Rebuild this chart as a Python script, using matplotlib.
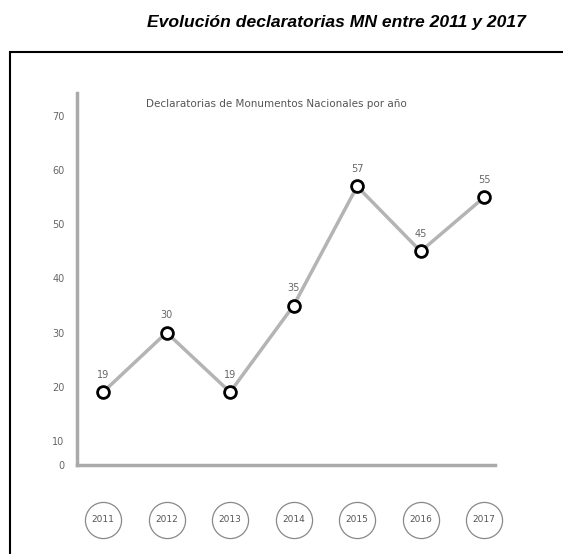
import matplotlib.pyplot as plt
from matplotlib.patches import Rectangle

years = [2011, 2012, 2013, 2014, 2015, 2016, 2017]
declaratorias = [19, 30, 19, 35, 57, 45, 55]
ytick_values = [10, 20, 30, 40, 50, 60, 70]

title = "Evolución declaratorias MN entre 2011 y 2017"
subtitle = "Declaratorias de Monumentos Nacionales por año"

fig = plt.figure(figsize=(5.63, 5.54), dpi=100)

# black frame that runs off the right and bottom edges
fig.patches.append(Rectangle((10 / 563, -0.1), 1.2, 1 - 52 / 554 + 0.1,
                             transform=fig.transFigure, fill=False,
                             edgecolor="black", linewidth=1.5))
fig.text(336 / 563, 0.96, title, ha="center", va="center", fontsize=12.6,
         fontweight="bold", fontstyle="italic", family="Liberation Sans")

ax = fig.add_axes([77 / 563, 1 - 465 / 554, 418 / 563, 372 / 554])
y_axis_bottom = 5.54
ax.set_xlim(2010.59, 2017.17)
ax.set_ylim(y_axis_bottom, 74.25)

grey = "#b4b4b4"
ax.plot(years, declaratorias, color=grey, linewidth=2.5, zorder=2)
ax.plot(years, declaratorias, "o", markersize=8.5, markerfacecolor="white",
        markeredgecolor="black", markeredgewidth=2, zorder=3)
for x, v in zip(years, declaratorias):
    ax.annotate(str(v), (x, v), xytext=(0, 9), textcoords="offset points",
                ha="center", va="bottom", fontsize=7, color="#666666")

# year badges under the axis
ax.plot(years, [-4.6] * len(years), "o", markersize=26, markerfacecolor="white",
        markeredgecolor="#888888", markeredgewidth=0.9, clip_on=False)
for x in years:
    ax.text(x, -4.6, str(x), ha="center", va="center", fontsize=6.5,
            color="#555555", clip_on=False)

ax.text((276 - 77) / 418, 0.97, subtitle, transform=ax.transAxes,
        ha="center", va="center", fontsize=7.5, color="#555555")

ax.set_yticks([y_axis_bottom] + ytick_values)
ax.set_yticklabels(["0"] + [str(v) for v in ytick_values])
ax.tick_params(axis="y", length=0, pad=9, labelsize=7, labelcolor="#666666")
ax.set_xticks([])
for side in ("top", "right"):
    ax.spines[side].set_visible(False)
for side in ("left", "bottom"):
    ax.spines[side].set_color("#aaaaaa")
    ax.spines[side].set_linewidth(2.5)

fig.savefig("out.png", dpi=100)
